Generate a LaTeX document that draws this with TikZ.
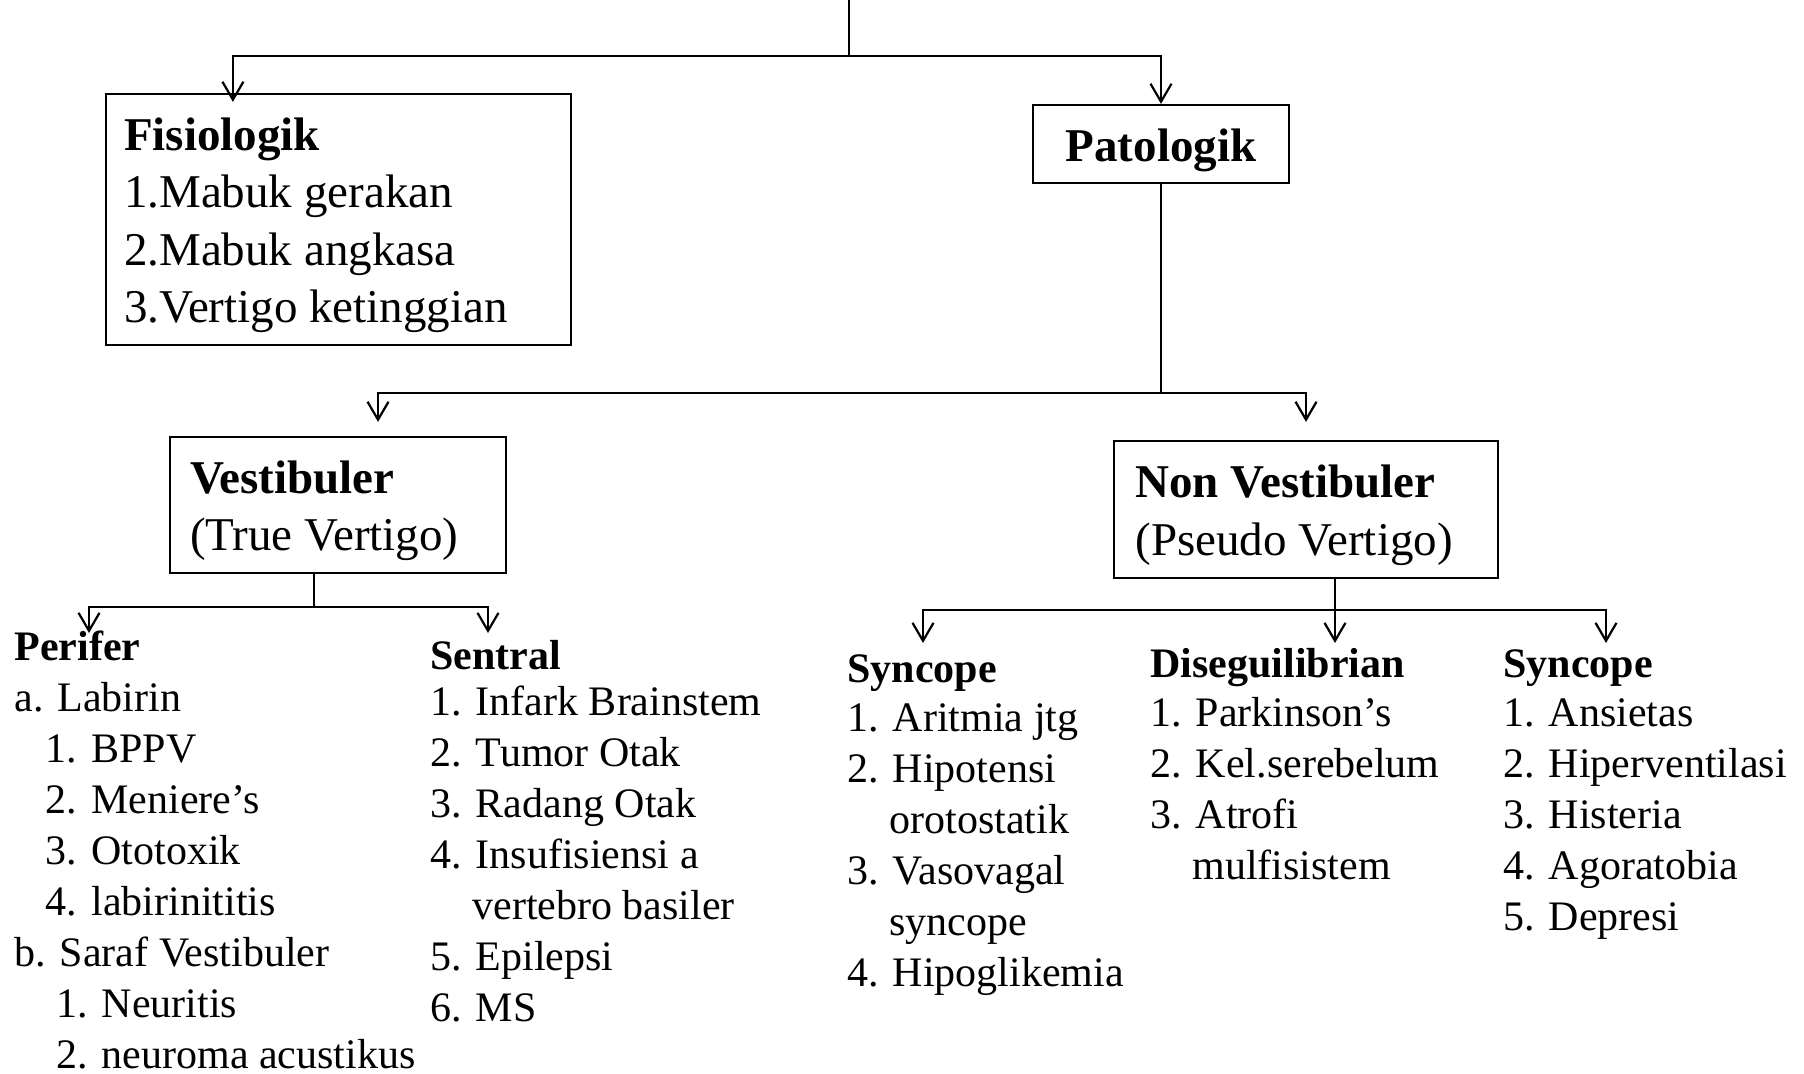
\documentclass[tikz,border=0pt]{standalone}
\usepackage{fontspec}
\setmainfont{Liberation Serif}
\usetikzlibrary{arrows.meta}
\newcommand{\upfont}{\fontsize{23.5}{28.75}\selectfont}
\newcommand{\lowfont}{\fontsize{21}{25.5}\selectfont}
\newcommand{\isikotak}[2]{\begin{minipage}{#1}\raggedright\vspace*{6pt}#2\end{minipage}}
\tikzset{
  kotak/.style={draw, line width=1.1pt, font=\upfont},
  daftar/.style={anchor=north west, inner sep=0pt, align=left, font=\lowfont},
  garis/.style={line width=1.1pt},
  panah/.style={garis, -{Straight Barb[length=9pt,width=10.5pt]}}
}
\begin{document}
\begin{tikzpicture}[x=0.5pt, y=-0.5pt]
\useasboundingbox (0,0) rectangle (1804,1074);

\node[kotak, inner xsep=9pt, minimum height=125.5pt] (fis) at (338.5,219.5)
  {\isikotak{214.5pt}{\textbf{Fisiologik}\\1.Mabuk gerakan\\2.Mabuk angkasa\\3.Vertigo ketinggian}};
\node[kotak, inner xsep=9pt, minimum height=39pt] (pat) at (1161,144)
  {\isikotak{110pt}{\centering\textbf{Patologik}}};
\node[kotak, inner xsep=10pt, minimum height=68pt] (ves) at (338,505)
  {\isikotak{148pt}{\textbf{Vestibuler}\\(True Vertigo)}};
\node[kotak, inner xsep=10.75pt, minimum height=68.5pt] (nves) at (1306,509.5)
  {\isikotak{170.5pt}{\textbf{Non Vestibuler}\\(Pseudo Vertigo)}};

\node[daftar] (perifer) at (14,624) {\strut\textbf{Perifer}\\a. Labirin\\
  \hspace*{0.75em}1. BPPV\\\hspace*{0.75em}2. Meniere’s\\\hspace*{0.75em}3. Ototoxik\\
  \hspace*{0.75em}4. labirinititis\\b. Saraf Vestibuler\\
  \hspace*{1em}1. Neuritis\\\hspace*{1em}2. neuroma acustikus};
\node[daftar] (sentral) at (430,633) {\strut\textbf{Sentral}\\[-2.5pt]1. Infark Brainstem\\
  2. Tumor Otak\\3. Radang Otak\\4. Insufisiensi a\\\hspace*{1em}vertebro basiler\\
  5. Epilepsi\\6. MS};
\node[daftar] (syncA) at (847,646) {\strut\textbf{Syncope}\\[-1pt]1. Aritmia jtg\\
  2. Hipotensi\\\hspace*{1em}orotostatik\\3. Vasovagal\\\hspace*{1em}syncope\\
  4. Hipoglikemia};
\node[daftar] (diseq) at (1150,641) {\strut\textbf{Diseguilibrian}\\[-1pt]1. Parkinson’s\\
  2. Kel.serebelum\\3. Atrofi\\\hspace*{1em}mulfisistem};
\node[daftar] (syncB) at (1503,641) {\strut\textbf{Syncope}\\[-1pt]1. Ansietas\\
  2. Hiperventilasi\\3. Histeria\\4. Agoratobia\\5. Depresi};

% cabang atas
\coordinate (akar) at (849,0);
\coordinate (cab1) at (849,56);
\draw[garis] (akar) -- (cab1);
\draw[panah] (cab1) -| ([xshift=64pt,yshift=-4.5pt]fis.north west);
\draw[panah] (cab1) -| (pat.north);

% patologik
\coordinate (cab2) at (1161,393);
\draw[garis] (pat.south) -- (cab2);
\draw[panah] (cab2) -| ([xshift=20pt,yshift=7pt]ves.north);
\draw[panah] (cab2) -| ([yshift=9pt]nves.north);

% vestibuler
\coordinate (cab3) at (314,607);
\coordinate (tperifer) at (89,633);
\coordinate (tsentral) at (488,633);
\draw[garis] ([xshift=-12pt]ves.south) -- (cab3);
\draw[panah] (cab3) -| (tperifer);
\draw[panah] (cab3) -| (tsentral);

% non vestibuler
\coordinate (cab4) at (1335,610);
\coordinate (tsyncA) at (923,643);
\coordinate (tdiseq) at (1335,643);
\coordinate (tsyncB) at (1606,643);
\draw[garis] ([xshift=14.5pt]nves.south) -- (cab4);
\draw[panah] (cab4) -| (tsyncA);
\draw[panah] (cab4) -- (tdiseq);
\draw[panah] (cab4) -| (tsyncB);

\end{tikzpicture}
\end{document}
